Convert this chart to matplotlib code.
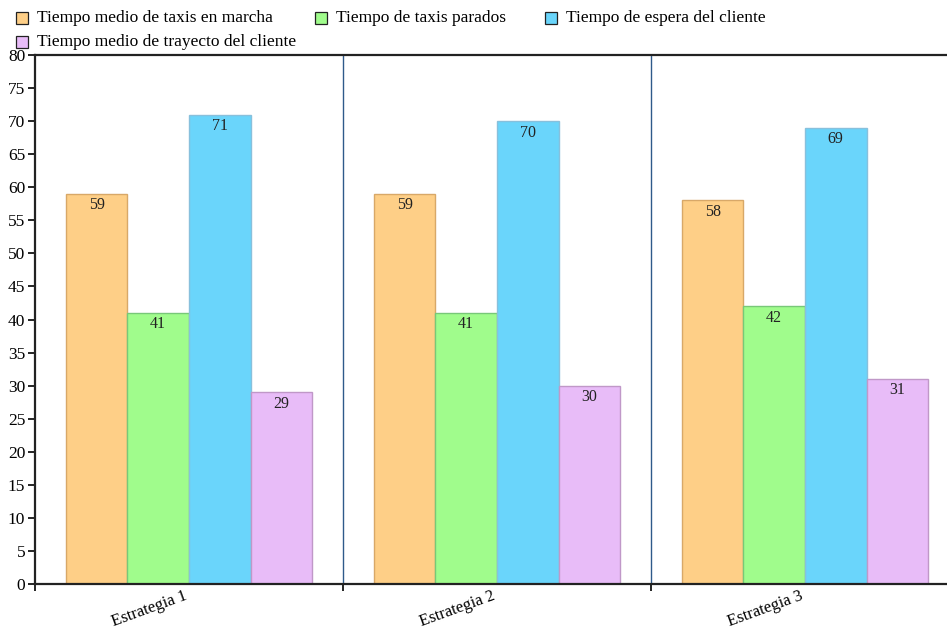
import numpy as np
import matplotlib.pyplot as plt
from matplotlib.patches import Rectangle

plt.rcParams['font.family'] = ['Liberation Serif', 'DejaVu Serif']

estrategias = ["Estrategia 1", "Estrategia 2", "Estrategia 3"]
series = ["Tiempo medio de taxis en marcha", "Tiempo de taxis parados",
          "Tiempo de espera del cliente", "Tiempo medio de trayecto del cliente"]
en_marcha = [59, 59, 58]
parados = [41, 41, 42]
espera = [71, 70, 69]
trayecto = [29, 30, 31]

colores = ['#fecf87', '#a0fc8c', '#6ad5fb', '#e8bcf8']
bordes = ['#d8a868', '#78c878', '#88c0dc', '#c098c8']

fig = plt.figure(figsize=(9.47, 6.29), dpi=100)
ax = fig.add_axes([35/947, 45/629, 924/947, 529/629])

x = np.arange(len(estrategias))
w = 0.2
valores = [en_marcha, parados, espera, trayecto]
for i, vals in enumerate(valores):
    xs = x + (i - 1.5) * w
    ax.bar(xs, vals, w, color=colores[i], edgecolor=bordes[i], linewidth=1)
    for xx, v in zip(xs, vals):
        ax.annotate(str(v), (xx, v), xytext=(0, -2.5), textcoords='offset points',
                    ha='center', va='top', fontsize=11.5, color='#222222')

ax.set_xlim(-0.5, 2.5)
ax.set_ylim(0, 80)
ax.set_yticks(np.arange(0, 81, 5))
ax.tick_params(axis='y', direction='out', length=5, width=1.2, labelsize=12.5, pad=2)

# separadores entre grupos
for s in [0.5, 1.5]:
    ax.axvline(s, color='#2f5a8a', linewidth=1)

ax.set_xticks([-0.5, 0.5, 1.5])
ax.set_xticklabels([])
ax.tick_params(axis='x', which='major', direction='out', length=5, width=1.2)
ax.set_xticks(x, minor=True)
ax.set_xticklabels(estrategias, minor=True, rotation=20, ha='right', va='top', fontsize=12)
ax.tick_params(axis='x', which='minor', length=0, pad=3)

for sp in ['left', 'bottom', 'top']:
    ax.spines[sp].set_linewidth(1.6)
    ax.spines[sp].set_color('#222222')
ax.spines['right'].set_visible(False)

# leyenda manual
pos = [(16, 18), (315, 18), (545, 18), (16, 42)]
for (px, py), lab, col in zip(pos, series, colores):
    fig.patches.append(Rectangle((px/947, 1 - (py + 6)/629), 12/947, 12/629,
                                 transform=fig.transFigure, facecolor=col,
                                 edgecolor='#222222', linewidth=0.9))
    fig.text((px + 21)/947, 1 - py/629, lab, fontsize=12.5, va='center', ha='left')

fig.savefig('out.png', dpi=100)
